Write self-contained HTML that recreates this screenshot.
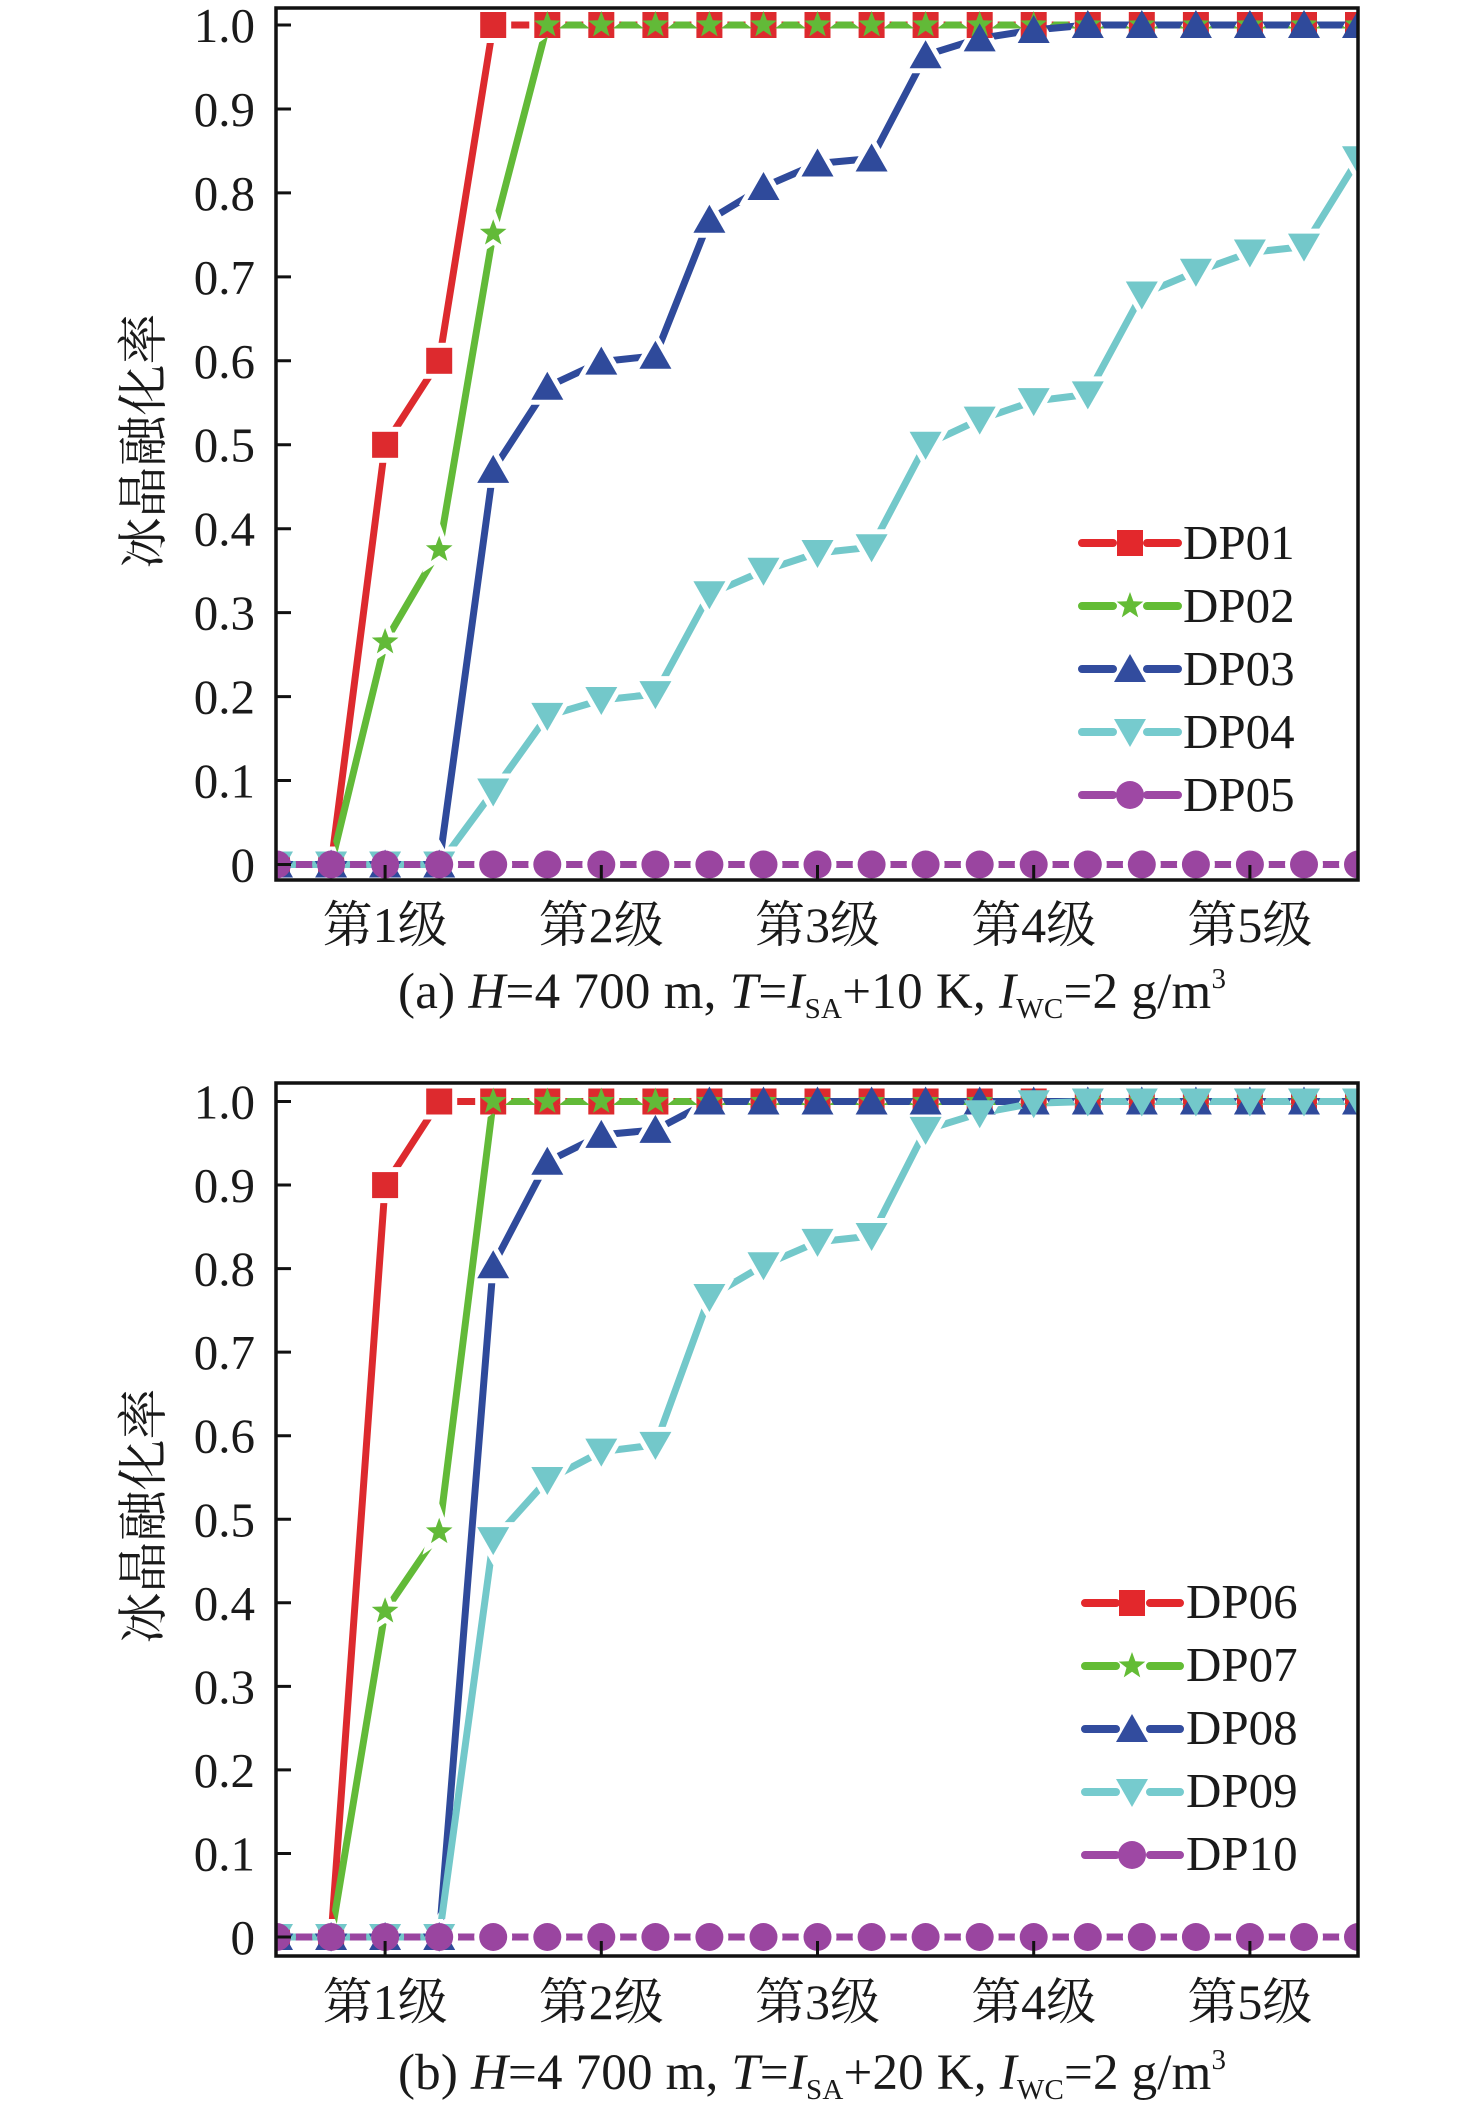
<!DOCTYPE html>
<html>
<head>
<meta charset="utf-8">
<style>
html,body{margin:0;padding:0;background:#fff;}
svg{display:block;}
text{font-family:"Liberation Serif","Noto Serif CJK SC",serif;fill:#1a1a1a;}
</style>
</head>
<body>
<svg width="1476" height="2117" viewBox="0 0 1476 2117" xmlns="http://www.w3.org/2000/svg">
<defs>
  <rect id="sq" x="-13" y="-13" width="26" height="26"/>
  <polygon id="st" points="0,-14 3.4,-4.69 13.32,-4.33 5.5,1.79 8.23,11.33 0,5.8 -8.23,11.33 -5.5,1.79 -13.32,-4.33 -3.4,-4.69"/>
  <polygon id="tu" points="0,-15 16,13 -16,13"/>
  <polygon id="td" points="0,15 16,-13 -16,-13"/>
  <circle id="ci" cx="0" cy="0" r="14"/>

  <clipPath id="clipA"><rect x="276" y="8" width="1082" height="872"/></clipPath>
  <clipPath id="clipB"><rect x="276" y="1083" width="1082" height="873"/></clipPath>

  <g id="mRa">
    <use href="#sq" x="277" y="864.5"/><use href="#sq" x="331.1" y="864.5"/><use href="#sq" x="385.1" y="444.8"/><use href="#sq" x="439.2" y="360.8"/>
    <use href="#sq" x="493.2" y="25"/><use href="#sq" x="547.3" y="25"/><use href="#sq" x="601.3" y="25"/><use href="#sq" x="655.4" y="25"/>
    <use href="#sq" x="709.4" y="25"/><use href="#sq" x="763.5" y="25"/><use href="#sq" x="817.5" y="25"/><use href="#sq" x="871.6" y="25"/>
    <use href="#sq" x="925.6" y="25"/><use href="#sq" x="979.7" y="25"/><use href="#sq" x="1033.7" y="25"/><use href="#sq" x="1087.8" y="25"/>
    <use href="#sq" x="1141.8" y="25"/><use href="#sq" x="1195.9" y="25"/><use href="#sq" x="1249.9" y="25"/><use href="#sq" x="1304" y="25"/><use href="#sq" x="1358" y="25"/>
  </g>
  <g id="mGa">
    <use href="#st" x="277" y="864.5"/><use href="#st" x="331.1" y="864.5"/><use href="#st" x="385.1" y="642"/><use href="#st" x="439.2" y="549.7"/>
    <use href="#st" x="493.2" y="233.2"/><use href="#st" x="547.3" y="25"/><use href="#st" x="601.3" y="25"/><use href="#st" x="655.4" y="25"/>
    <use href="#st" x="709.4" y="25"/><use href="#st" x="763.5" y="25"/><use href="#st" x="817.5" y="25"/><use href="#st" x="871.6" y="25"/>
    <use href="#st" x="925.6" y="25"/><use href="#st" x="979.7" y="25"/><use href="#st" x="1033.7" y="25"/><use href="#st" x="1087.8" y="25"/>
    <use href="#st" x="1141.8" y="25"/><use href="#st" x="1195.9" y="25"/><use href="#st" x="1249.9" y="25"/><use href="#st" x="1304" y="25"/><use href="#st" x="1358" y="25"/>
  </g>
  <g id="mBa">
    <use href="#tu" x="277" y="864.5"/><use href="#tu" x="331.1" y="864.5"/><use href="#tu" x="385.1" y="864.5"/><use href="#tu" x="439.2" y="864.5"/>
    <use href="#tu" x="493.2" y="469.9"/><use href="#tu" x="547.3" y="386.8"/><use href="#tu" x="601.3" y="361.6"/><use href="#tu" x="655.4" y="355.8"/>
    <use href="#tu" x="709.4" y="219.8"/><use href="#tu" x="763.5" y="187"/><use href="#tu" x="817.5" y="163.5"/><use href="#tu" x="871.6" y="158.5"/>
    <use href="#tu" x="925.6" y="55.2"/><use href="#tu" x="979.7" y="38.4"/><use href="#tu" x="1033.7" y="30"/><use href="#tu" x="1087.8" y="25"/>
    <use href="#tu" x="1141.8" y="25"/><use href="#tu" x="1195.9" y="25"/><use href="#tu" x="1249.9" y="25"/><use href="#tu" x="1304" y="25"/><use href="#tu" x="1358" y="25"/>
  </g>
  <g id="mCa">
    <use href="#td" x="277" y="864.5"/><use href="#td" x="331.1" y="864.5"/><use href="#td" x="385.1" y="864.5"/><use href="#td" x="439.2" y="864.5"/>
    <use href="#td" x="493.2" y="791.5"/><use href="#td" x="547.3" y="715.9"/><use href="#td" x="601.3" y="700"/><use href="#td" x="655.4" y="694.1"/>
    <use href="#td" x="709.4" y="594.2"/><use href="#td" x="763.5" y="570.7"/><use href="#td" x="817.5" y="553"/><use href="#td" x="871.6" y="547.2"/>
    <use href="#td" x="925.6" y="444.8"/><use href="#td" x="979.7" y="419.6"/><use href="#td" x="1033.7" y="401.1"/><use href="#td" x="1087.8" y="394.4"/>
    <use href="#td" x="1141.8" y="294.5"/><use href="#td" x="1195.9" y="271.8"/><use href="#td" x="1249.9" y="252.5"/><use href="#td" x="1304" y="246.6"/><use href="#td" x="1358" y="159.3"/>
  </g>
  <g id="mPa">
    <use href="#ci" x="277" y="864.5"/><use href="#ci" x="331.1" y="864.5"/><use href="#ci" x="385.1" y="864.5"/><use href="#ci" x="439.2" y="864.5"/>
    <use href="#ci" x="493.2" y="864.5"/><use href="#ci" x="547.3" y="864.5"/><use href="#ci" x="601.3" y="864.5"/><use href="#ci" x="655.4" y="864.5"/>
    <use href="#ci" x="709.4" y="864.5"/><use href="#ci" x="763.5" y="864.5"/><use href="#ci" x="817.5" y="864.5"/><use href="#ci" x="871.6" y="864.5"/>
    <use href="#ci" x="925.6" y="864.5"/><use href="#ci" x="979.7" y="864.5"/><use href="#ci" x="1033.7" y="864.5"/><use href="#ci" x="1087.8" y="864.5"/>
    <use href="#ci" x="1141.8" y="864.5"/><use href="#ci" x="1195.9" y="864.5"/><use href="#ci" x="1249.9" y="864.5"/><use href="#ci" x="1304" y="864.5"/><use href="#ci" x="1358" y="864.5"/>
  </g>

  <g id="mRb">
    <use href="#sq" x="277" y="1937"/><use href="#sq" x="331.1" y="1937"/><use href="#sq" x="385.1" y="1185.1"/><use href="#sq" x="439.2" y="1101.5"/>
    <use href="#sq" x="493.2" y="1101.5"/><use href="#sq" x="547.3" y="1101.5"/><use href="#sq" x="601.3" y="1101.5"/><use href="#sq" x="655.4" y="1101.5"/>
    <use href="#sq" x="709.4" y="1101.5"/><use href="#sq" x="763.5" y="1101.5"/><use href="#sq" x="817.5" y="1101.5"/><use href="#sq" x="871.6" y="1101.5"/>
    <use href="#sq" x="925.6" y="1101.5"/><use href="#sq" x="979.7" y="1101.5"/><use href="#sq" x="1033.7" y="1101.5"/><use href="#sq" x="1087.8" y="1101.5"/>
    <use href="#sq" x="1141.8" y="1101.5"/><use href="#sq" x="1195.9" y="1101.5"/><use href="#sq" x="1249.9" y="1101.5"/><use href="#sq" x="1304" y="1101.5"/><use href="#sq" x="1358" y="1101.5"/>
  </g>
  <g id="mGb">
    <use href="#st" x="277" y="1937"/><use href="#st" x="331.1" y="1937"/><use href="#st" x="385.1" y="1611.2"/><use href="#st" x="439.2" y="1531.8"/>
    <use href="#st" x="493.2" y="1101.5"/><use href="#st" x="547.3" y="1101.5"/><use href="#st" x="601.3" y="1101.5"/><use href="#st" x="655.4" y="1101.5"/>
    <use href="#st" x="709.4" y="1101.5"/><use href="#st" x="763.5" y="1101.5"/><use href="#st" x="817.5" y="1101.5"/><use href="#st" x="871.6" y="1101.5"/>
    <use href="#st" x="925.6" y="1101.5"/><use href="#st" x="979.7" y="1101.5"/><use href="#st" x="1033.7" y="1101.5"/><use href="#st" x="1087.8" y="1101.5"/>
    <use href="#st" x="1141.8" y="1101.5"/><use href="#st" x="1195.9" y="1101.5"/><use href="#st" x="1249.9" y="1101.5"/><use href="#st" x="1304" y="1101.5"/><use href="#st" x="1358" y="1101.5"/>
  </g>
  <g id="mBb">
    <use href="#tu" x="277" y="1937"/><use href="#tu" x="331.1" y="1937"/><use href="#tu" x="385.1" y="1937"/><use href="#tu" x="439.2" y="1937"/>
    <use href="#tu" x="493.2" y="1265.3"/><use href="#tu" x="547.3" y="1161.7"/><use href="#tu" x="601.3" y="1134.9"/><use href="#tu" x="655.4" y="1129.9"/>
    <use href="#tu" x="709.4" y="1101.5"/><use href="#tu" x="763.5" y="1101.5"/><use href="#tu" x="817.5" y="1101.5"/><use href="#tu" x="871.6" y="1101.5"/>
    <use href="#tu" x="925.6" y="1101.5"/><use href="#tu" x="979.7" y="1101.5"/><use href="#tu" x="1033.7" y="1101.5"/><use href="#tu" x="1087.8" y="1101.5"/>
    <use href="#tu" x="1141.8" y="1101.5"/><use href="#tu" x="1195.9" y="1101.5"/><use href="#tu" x="1249.9" y="1101.5"/><use href="#tu" x="1304" y="1101.5"/><use href="#tu" x="1358" y="1101.5"/>
  </g>
  <g id="mCb">
    <use href="#td" x="277" y="1937"/><use href="#td" x="331.1" y="1937"/><use href="#td" x="385.1" y="1937"/><use href="#td" x="439.2" y="1937"/>
    <use href="#td" x="493.2" y="1540.1"/><use href="#td" x="547.3" y="1480"/><use href="#td" x="601.3" y="1451.6"/><use href="#td" x="655.4" y="1444.9"/>
    <use href="#td" x="709.4" y="1297"/><use href="#td" x="763.5" y="1265.3"/><use href="#td" x="817.5" y="1241.9"/><use href="#td" x="871.6" y="1236"/>
    <use href="#td" x="925.6" y="1129.9"/><use href="#td" x="979.7" y="1113.2"/><use href="#td" x="1033.7" y="1103.2"/><use href="#td" x="1087.8" y="1101.5"/>
    <use href="#td" x="1141.8" y="1101.5"/><use href="#td" x="1195.9" y="1101.5"/><use href="#td" x="1249.9" y="1101.5"/><use href="#td" x="1304" y="1101.5"/><use href="#td" x="1358" y="1101.5"/>
  </g>
  <g id="mPb">
    <use href="#ci" x="277" y="1937"/><use href="#ci" x="331.1" y="1937"/><use href="#ci" x="385.1" y="1937"/><use href="#ci" x="439.2" y="1937"/>
    <use href="#ci" x="493.2" y="1937"/><use href="#ci" x="547.3" y="1937"/><use href="#ci" x="601.3" y="1937"/><use href="#ci" x="655.4" y="1937"/>
    <use href="#ci" x="709.4" y="1937"/><use href="#ci" x="763.5" y="1937"/><use href="#ci" x="817.5" y="1937"/><use href="#ci" x="871.6" y="1937"/>
    <use href="#ci" x="925.6" y="1937"/><use href="#ci" x="979.7" y="1937"/><use href="#ci" x="1033.7" y="1937"/><use href="#ci" x="1087.8" y="1937"/>
    <use href="#ci" x="1141.8" y="1937"/><use href="#ci" x="1195.9" y="1937"/><use href="#ci" x="1249.9" y="1937"/><use href="#ci" x="1304" y="1937"/><use href="#ci" x="1358" y="1937"/>
  </g>

  <mask id="kRa" maskUnits="userSpaceOnUse" x="0" y="0" width="1476" height="2117"><rect width="1476" height="2117" fill="#fff"/><use href="#mRa" fill="#000" stroke="#000" stroke-width="10"/></mask>
  <mask id="kGa" maskUnits="userSpaceOnUse" x="0" y="0" width="1476" height="2117"><rect width="1476" height="2117" fill="#fff"/><use href="#mGa" fill="#000" stroke="#000" stroke-width="10"/></mask>
  <mask id="kBa" maskUnits="userSpaceOnUse" x="0" y="0" width="1476" height="2117"><rect width="1476" height="2117" fill="#fff"/><use href="#mBa" fill="#000" stroke="#000" stroke-width="10"/></mask>
  <mask id="kCa" maskUnits="userSpaceOnUse" x="0" y="0" width="1476" height="2117"><rect width="1476" height="2117" fill="#fff"/><use href="#mCa" fill="#000" stroke="#000" stroke-width="10"/></mask>
  <mask id="kPa" maskUnits="userSpaceOnUse" x="0" y="0" width="1476" height="2117"><rect width="1476" height="2117" fill="#fff"/><use href="#mPa" fill="#000" stroke="#000" stroke-width="10"/></mask>
  <mask id="kRb" maskUnits="userSpaceOnUse" x="0" y="0" width="1476" height="2117"><rect width="1476" height="2117" fill="#fff"/><use href="#mRb" fill="#000" stroke="#000" stroke-width="10"/></mask>
  <mask id="kGb" maskUnits="userSpaceOnUse" x="0" y="0" width="1476" height="2117"><rect width="1476" height="2117" fill="#fff"/><use href="#mGb" fill="#000" stroke="#000" stroke-width="10"/></mask>
  <mask id="kBb" maskUnits="userSpaceOnUse" x="0" y="0" width="1476" height="2117"><rect width="1476" height="2117" fill="#fff"/><use href="#mBb" fill="#000" stroke="#000" stroke-width="10"/></mask>
  <mask id="kCb" maskUnits="userSpaceOnUse" x="0" y="0" width="1476" height="2117"><rect width="1476" height="2117" fill="#fff"/><use href="#mCb" fill="#000" stroke="#000" stroke-width="10"/></mask>
  <mask id="kPb" maskUnits="userSpaceOnUse" x="0" y="0" width="1476" height="2117"><rect width="1476" height="2117" fill="#fff"/><use href="#mPb" fill="#000" stroke="#000" stroke-width="10"/></mask>
</defs>

<rect width="1476" height="2117" fill="#fff"/>

<!-- ================= PANEL A ================= -->
<g clip-path="url(#clipA)" fill="none" stroke-width="7" stroke-linecap="round" stroke-linejoin="round">
  <polyline mask="url(#kRa)" stroke="#DD2A2E" points="277,864.5 331.1,864.5 385.1,444.8 439.2,360.8 493.2,25 1358,25"/>
  <use href="#mRa" fill="#DD2A2E" stroke="none"/>
  <polyline mask="url(#kGa)" stroke="#62BA38" points="277,864.5 331.1,864.5 385.1,642 439.2,549.7 493.2,233.2 547.3,25 1358,25"/>
  <use href="#mGa" fill="#62BA38" stroke="none"/>
  <polyline mask="url(#kBa)" stroke="#2F4A9B" points="277,864.5 439.2,864.5 493.2,469.9 547.3,386.8 601.3,361.6 655.4,355.8 709.4,219.8 763.5,187 817.5,163.5 871.6,158.5 925.6,55.2 979.7,38.4 1033.7,30 1087.8,25 1358,25"/>
  <use href="#mBa" fill="#2F4A9B" stroke="none"/>
  <polyline mask="url(#kCa)" stroke="#73C8CA" points="277,864.5 439.2,864.5 493.2,791.5 547.3,715.9 601.3,700 655.4,694.1 709.4,594.2 763.5,570.7 817.5,553 871.6,547.2 925.6,444.8 979.7,419.6 1033.7,401.1 1087.8,394.4 1141.8,294.5 1195.9,271.8 1249.9,252.5 1304,246.6 1358,159.3"/>
  <use href="#mCa" fill="#73C8CA" stroke="none"/>
  <polyline mask="url(#kPa)" stroke="#9A45A0" points="277,864.5 1358,864.5"/>
  <use href="#mPa" fill="#9A45A0" stroke="none"/>
</g>

<rect x="276" y="8" width="1082" height="872" fill="none" stroke="#111" stroke-width="3.5"/>
<g stroke="#111" stroke-width="3">
  <path d="M276 864.5h15M276 780.55h15M276 696.6h15M276 612.65h15M276 528.7h15M276 444.75h15M276 360.8h15M276 276.85h15M276 192.9h15M276 108.95h15M276 25h15"/>
  <path d="M385.1 880v-15M601.3 880v-15M817.5 880v-15M1033.7 880v-15M1249.9 880v-15"/>
</g>
<g font-size="49" text-anchor="end">
  <text x="255" y="881.5">0</text>
  <text x="255" y="797.5">0.1</text>
  <text x="255" y="713.6">0.2</text>
  <text x="255" y="629.6">0.3</text>
  <text x="255" y="545.7">0.4</text>
  <text x="255" y="461.7">0.5</text>
  <text x="255" y="377.8">0.6</text>
  <text x="255" y="293.8">0.7</text>
  <text x="255" y="209.9">0.8</text>
  <text x="255" y="125.9">0.9</text>
  <text x="255" y="42">1.0</text>
</g>
<g font-size="50" text-anchor="middle">
  <text x="385.1" y="942">第1级</text>
  <text x="601.3" y="942">第2级</text>
  <text x="817.5" y="942">第3级</text>
  <text x="1033.7" y="942">第4级</text>
  <text x="1249.9" y="942">第5级</text>
</g>
<text font-size="51" text-anchor="middle" transform="translate(161,441) rotate(-90)">冰晶融化率</text>

<g stroke-width="8" stroke-linecap="round" fill="none">
  <path d="M1082 543H1113M1147 543H1178" stroke="#E3282C"/>
  <path d="M1082 606H1113M1147 606H1178" stroke="#63BC35"/>
  <path d="M1082 669H1113M1147 669H1178" stroke="#324C9E"/>
  <path d="M1082 732H1113M1147 732H1178" stroke="#76CBCE"/>
  <path d="M1082 795H1113M1147 795H1178" stroke="#9E48A4"/>
</g>
<use href="#sq" x="1130" y="543" fill="#E3282C"/>
<use href="#st" x="1130" y="606" fill="#63BC35"/>
<use href="#tu" x="1130" y="669" fill="#324C9E"/>
<use href="#td" x="1130" y="732" fill="#76CBCE"/>
<use href="#ci" x="1130" y="795" fill="#9E48A4"/>
<g font-size="49">
  <text x="1183" y="559">DP01</text>
  <text x="1183" y="622">DP02</text>
  <text x="1183" y="685">DP03</text>
  <text x="1183" y="748">DP04</text>
  <text x="1183" y="811">DP05</text>
</g>

<text x="398" y="1008" font-size="51" textLength="828" lengthAdjust="spacing">(a) <tspan font-style="italic">H</tspan>=4 700 m, <tspan font-style="italic">T</tspan>=<tspan font-style="italic">I</tspan><tspan font-size="29" dy="10">SA</tspan><tspan dy="-10">+10 K, </tspan><tspan font-style="italic">I</tspan><tspan font-size="29" dy="10">WC</tspan><tspan dy="-10">=2 g/m</tspan><tspan font-size="29" dy="-20">3</tspan></text>

<!-- ================= PANEL B ================= -->
<g clip-path="url(#clipB)" fill="none" stroke-width="7" stroke-linecap="round" stroke-linejoin="round">
  <polyline mask="url(#kRb)" stroke="#DD2A2E" points="277,1937 331.1,1937 385.1,1185.1 439.2,1101.5 1358,1101.5"/>
  <use href="#mRb" fill="#DD2A2E" stroke="none"/>
  <polyline mask="url(#kGb)" stroke="#62BA38" points="277,1937 331.1,1937 385.1,1611.2 439.2,1531.8 493.2,1101.5 1358,1101.5"/>
  <use href="#mGb" fill="#62BA38" stroke="none"/>
  <polyline mask="url(#kBb)" stroke="#2F4A9B" points="277,1937 439.2,1937 493.2,1265.3 547.3,1161.7 601.3,1134.9 655.4,1129.9 709.4,1101.5 1358,1101.5"/>
  <use href="#mBb" fill="#2F4A9B" stroke="none"/>
  <polyline mask="url(#kCb)" stroke="#73C8CA" points="277,1937 439.2,1937 493.2,1540.1 547.3,1480 601.3,1451.6 655.4,1444.9 709.4,1297 763.5,1265.3 817.5,1241.9 871.6,1236 925.6,1129.9 979.7,1113.2 1033.7,1103.2 1087.8,1101.5 1358,1101.5"/>
  <use href="#mCb" fill="#73C8CA" stroke="none"/>
  <polyline mask="url(#kPb)" stroke="#9A45A0" points="277,1937 1358,1937"/>
  <use href="#mPb" fill="#9A45A0" stroke="none"/>
</g>

<rect x="276" y="1083" width="1082" height="873" fill="none" stroke="#111" stroke-width="3.5"/>
<g stroke="#111" stroke-width="3">
  <path d="M276 1937h15M276 1853.45h15M276 1769.9h15M276 1686.35h15M276 1602.8h15M276 1519.25h15M276 1435.7h15M276 1352.15h15M276 1268.6h15M276 1185.05h15M276 1101.5h15"/>
  <path d="M385.1 1956v-15M601.3 1956v-15M817.5 1956v-15M1033.7 1956v-15M1249.9 1956v-15"/>
</g>
<g font-size="49" text-anchor="end">
  <text x="255" y="1954">0</text>
  <text x="255" y="1870.5">0.1</text>
  <text x="255" y="1786.9">0.2</text>
  <text x="255" y="1703.4">0.3</text>
  <text x="255" y="1619.8">0.4</text>
  <text x="255" y="1536.3">0.5</text>
  <text x="255" y="1452.7">0.6</text>
  <text x="255" y="1369.2">0.7</text>
  <text x="255" y="1285.6">0.8</text>
  <text x="255" y="1202.1">0.9</text>
  <text x="255" y="1118.5">1.0</text>
</g>
<g font-size="50" text-anchor="middle">
  <text x="385.1" y="2019">第1级</text>
  <text x="601.3" y="2019">第2级</text>
  <text x="817.5" y="2019">第3级</text>
  <text x="1033.7" y="2019">第4级</text>
  <text x="1249.9" y="2019">第5级</text>
</g>
<text font-size="51" text-anchor="middle" transform="translate(161,1516) rotate(-90)">冰晶融化率</text>

<g stroke-width="8" stroke-linecap="round" fill="none">
  <path d="M1085 1603H1116M1150 1603H1180" stroke="#E3282C"/>
  <path d="M1085 1666H1116M1150 1666H1180" stroke="#63BC35"/>
  <path d="M1085 1729H1116M1150 1729H1180" stroke="#324C9E"/>
  <path d="M1085 1792H1116M1150 1792H1180" stroke="#76CBCE"/>
  <path d="M1085 1855H1116M1150 1855H1180" stroke="#9E48A4"/>
</g>
<use href="#sq" x="1132" y="1603" fill="#E3282C"/>
<use href="#st" x="1132" y="1666" fill="#63BC35"/>
<use href="#tu" x="1132" y="1729" fill="#324C9E"/>
<use href="#td" x="1132" y="1792" fill="#76CBCE"/>
<use href="#ci" x="1132" y="1855" fill="#9E48A4"/>
<g font-size="49">
  <text x="1186" y="1618">DP06</text>
  <text x="1186" y="1681">DP07</text>
  <text x="1186" y="1744">DP08</text>
  <text x="1186" y="1807">DP09</text>
  <text x="1186" y="1870">DP10</text>
</g>

<text x="398" y="2089" font-size="51" textLength="828" lengthAdjust="spacing">(b) <tspan font-style="italic">H</tspan>=4 700 m, <tspan font-style="italic">T</tspan>=<tspan font-style="italic">I</tspan><tspan font-size="29" dy="10">SA</tspan><tspan dy="-10">+20 K, </tspan><tspan font-style="italic">I</tspan><tspan font-size="29" dy="10">WC</tspan><tspan dy="-10">=2 g/m</tspan><tspan font-size="29" dy="-20">3</tspan></text>

</svg>
</body>
</html>
